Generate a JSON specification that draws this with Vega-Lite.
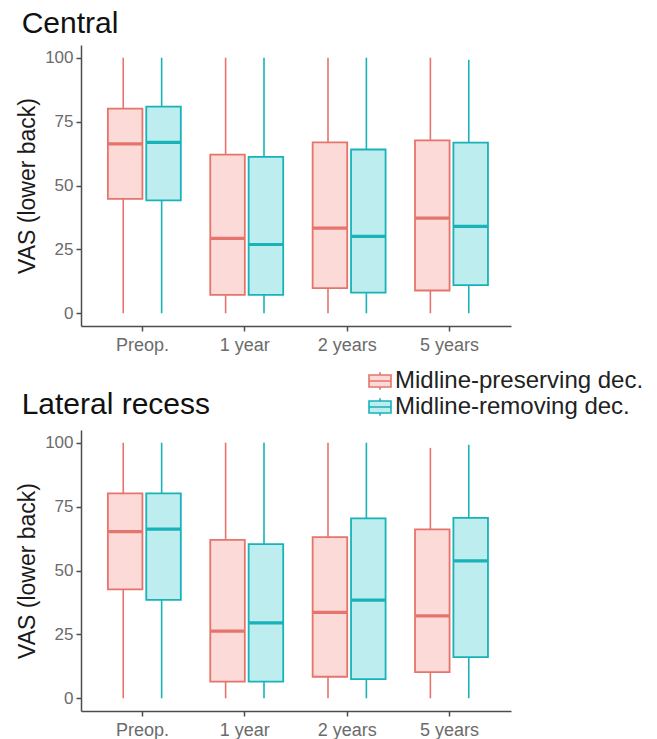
{
  "$schema": "https://vega.github.io/schema/vega-lite/v6.json",
  "padding": {"top": 9, "left": 16, "right": 5, "bottom": 2},
  "background": "white",
  "config": {
    "font": "Liberation Sans",
    "view": {"stroke": null},
    "axis": {
      "grid": false,
      "domainColor": "#4d4d4d",
      "domainWidth": 1.5,
      "tickColor": "#4d4d4d",
      "tickWidth": 1.5,
      "tickSize": 5,
      "labelColor": "#6b6b6b",
      "labelFontSize": 17,
      "titleColor": "#1a1a1a",
      "titleFontSize": 23,
      "titleFontWeight": "normal",
      "labelPadding": 3
    },
    "title": {"fontSize": 30, "fontWeight": "normal", "color": "#111111", "anchor": "start", "baseline": "alphabetic"}
  },
  "datasets": {
    "stats": [
      {"panel": "Central", "time": "Preop.", "group": "Midline-preserving dec.", "min": 0, "q1": 44.8, "median": 66.3, "q3": 80.1, "max": 100},
      {"panel": "Central", "time": "Preop.", "group": "Midline-removing dec.", "min": 0, "q1": 44.2, "median": 66.9, "q3": 80.9, "max": 100},
      {"panel": "Central", "time": "1 year", "group": "Midline-preserving dec.", "min": 0, "q1": 7.2, "median": 29.3, "q3": 62.1, "max": 100},
      {"panel": "Central", "time": "1 year", "group": "Midline-removing dec.", "min": 0, "q1": 7.2, "median": 26.9, "q3": 61.2, "max": 100},
      {"panel": "Central", "time": "2 years", "group": "Midline-preserving dec.", "min": 0, "q1": 9.8, "median": 33.3, "q3": 66.9, "max": 100},
      {"panel": "Central", "time": "2 years", "group": "Midline-removing dec.", "min": 0, "q1": 8.1, "median": 30.1, "q3": 64.1, "max": 100},
      {"panel": "Central", "time": "5 years", "group": "Midline-preserving dec.", "min": 0, "q1": 8.9, "median": 37.2, "q3": 67.7, "max": 100},
      {"panel": "Central", "time": "5 years", "group": "Midline-removing dec.", "min": 0, "q1": 11.0, "median": 34.0, "q3": 66.8, "max": 99.2},
      {"panel": "Lateral recess", "time": "Preop.", "group": "Midline-preserving dec.", "min": 0, "q1": 42.6, "median": 65.2, "q3": 80.2, "max": 100},
      {"panel": "Lateral recess", "time": "Preop.", "group": "Midline-removing dec.", "min": 0, "q1": 38.5, "median": 66.2, "q3": 80.2, "max": 100},
      {"panel": "Lateral recess", "time": "1 year", "group": "Midline-preserving dec.", "min": 0, "q1": 6.5, "median": 26.3, "q3": 62.0, "max": 100},
      {"panel": "Lateral recess", "time": "1 year", "group": "Midline-removing dec.", "min": 0, "q1": 6.5, "median": 29.5, "q3": 60.3, "max": 100},
      {"panel": "Lateral recess", "time": "2 years", "group": "Midline-preserving dec.", "min": 0, "q1": 8.4, "median": 33.6, "q3": 63.1, "max": 100},
      {"panel": "Lateral recess", "time": "2 years", "group": "Midline-removing dec.", "min": 0, "q1": 7.5, "median": 38.4, "q3": 70.4, "max": 100},
      {"panel": "Lateral recess", "time": "5 years", "group": "Midline-preserving dec.", "min": 0, "q1": 10.2, "median": 32.2, "q3": 66.1, "max": 98.0},
      {"panel": "Lateral recess", "time": "5 years", "group": "Midline-removing dec.", "min": 0, "q1": 16.1, "median": 53.8, "q3": 70.6, "max": 99.2}
    ]
  },
  "resolve": {"scale": {"fill": "independent", "stroke": "independent"}},
  "bounds": "flush",
  "spacing": 104,
  "vconcat": [
    {
      "title": {"text": "Central", "dx": 5, "offset": 6},
      "data": {"name": "stats"},
      "transform": [{"filter": "datum.panel === 'Central'"}],
      "width": 430,
      "height": 281,
      "encoding": {
        "x": {"field": "time", "type": "nominal", "sort": ["Preop.", "1 year", "2 years", "5 years"],
              "scale": {"paddingInner": 0.25, "paddingOuter": 0.225},
              "axis": {"title": null, "labelAngle": 0, "labelPadding": 5, "labelFontSize": 18}},
        "xOffset": {"field": "group", "type": "nominal", "sort": ["Midline-preserving dec.", "Midline-removing dec."],
                    "scale": {"paddingInner": 0, "paddingOuter": 0}}
      },
      "layer": [
        {
          "mark": {"type": "rule", "strokeWidth": 1.6},
          "encoding": {
            "y": {"field": "min", "type": "quantitative", "title": "VAS (lower back)",
                  "scale": {"domain": [-5, 105], "nice": false, "zero": false},
                  "axis": {"values": [0, 25, 50, 75, 100], "titlePadding": 5}},
            "y2": {"field": "max"},
            "stroke": {"field": "group", "type": "nominal", "scale": {"domain": ["Midline-preserving dec.", "Midline-removing dec."], "range": ["#E5756C", "#17B3B9"]},
                       "legend": {"title": null, "orient": "none", "legendX": 287, "legendY": 324, "labelFontSize": 24, "labelColor": "#222222", "labelLimit": 0, "symbolType": "M-1,-0.55H1V0.55H-1Z M-1,0H1 M0,-0.55V-0.8 M0,0.55V0.8", "symbolSize": 484, "symbolStrokeWidth": 1.6, "rowPadding": 2, "labelOffset": 3}}
          }
        },
        {
          "mark": {"type": "bar", "width": {"band": 0.9}, "strokeWidth": 1.8},
          "encoding": {
            "y": {"field": "q1", "type": "quantitative", "title": "VAS (lower back)"},
            "y2": {"field": "q3"},
            "fill": {"field": "group", "type": "nominal", "scale": {"domain": ["Midline-preserving dec.", "Midline-removing dec."], "range": ["#FCDAD7", "#BEEDEF"]},
                     "legend": {"title": null, "orient": "none", "legendX": 287, "legendY": 324, "labelFontSize": 24, "labelColor": "#222222", "labelLimit": 0, "symbolType": "M-1,-0.55H1V0.55H-1Z M-1,0H1 M0,-0.55V-0.8 M0,0.55V0.8", "symbolSize": 484, "symbolStrokeWidth": 1.6, "rowPadding": 2, "labelOffset": 3}},
            "stroke": {"field": "group", "type": "nominal"}
          }
        },
        {
          "mark": {"type": "bar", "width": {"band": 0.9}, "strokeWidth": 3.2, "fillOpacity": 0},
          "encoding": {
            "y": {"field": "median", "type": "quantitative", "title": "VAS (lower back)"},
            "y2": {"field": "median"},
            "stroke": {"field": "group", "type": "nominal"}
          }
        }
      ]
    },
    {
      "title": {"text": "Lateral recess", "dx": 5, "offset": 10},
      "data": {"name": "stats"},
      "transform": [{"filter": "datum.panel === 'Lateral recess'"}],
      "width": 430,
      "height": 281,
      "encoding": {
        "x": {"field": "time", "type": "nominal", "sort": ["Preop.", "1 year", "2 years", "5 years"],
              "scale": {"paddingInner": 0.25, "paddingOuter": 0.225},
              "axis": {"title": null, "labelAngle": 0, "labelPadding": 5, "labelFontSize": 18}},
        "xOffset": {"field": "group", "type": "nominal", "sort": ["Midline-preserving dec.", "Midline-removing dec."],
                    "scale": {"paddingInner": 0, "paddingOuter": 0}}
      },
      "layer": [
        {
          "mark": {"type": "rule", "strokeWidth": 1.6},
          "encoding": {
            "y": {"field": "min", "type": "quantitative", "title": "VAS (lower back)",
                  "scale": {"domain": [-5, 105], "nice": false, "zero": false},
                  "axis": {"values": [0, 25, 50, 75, 100], "titlePadding": 5}},
            "y2": {"field": "max"},
            "stroke": {"field": "group", "type": "nominal", "scale": {"domain": ["Midline-preserving dec.", "Midline-removing dec."], "range": ["#E5756C", "#17B3B9"]}, "legend": null}
          }
        },
        {
          "mark": {"type": "bar", "width": {"band": 0.9}, "strokeWidth": 1.8},
          "encoding": {
            "y": {"field": "q1", "type": "quantitative", "title": "VAS (lower back)"},
            "y2": {"field": "q3"},
            "fill": {"field": "group", "type": "nominal", "scale": {"domain": ["Midline-preserving dec.", "Midline-removing dec."], "range": ["#FCDAD7", "#BEEDEF"]}, "legend": null},
            "stroke": {"field": "group", "type": "nominal", "legend": null}
          }
        },
        {
          "mark": {"type": "bar", "width": {"band": 0.9}, "strokeWidth": 3.2, "fillOpacity": 0},
          "encoding": {
            "y": {"field": "median", "type": "quantitative", "title": "VAS (lower back)"},
            "y2": {"field": "median"},
            "stroke": {"field": "group", "type": "nominal", "legend": null}
          }
        }
      ]
    }
  ]
}
